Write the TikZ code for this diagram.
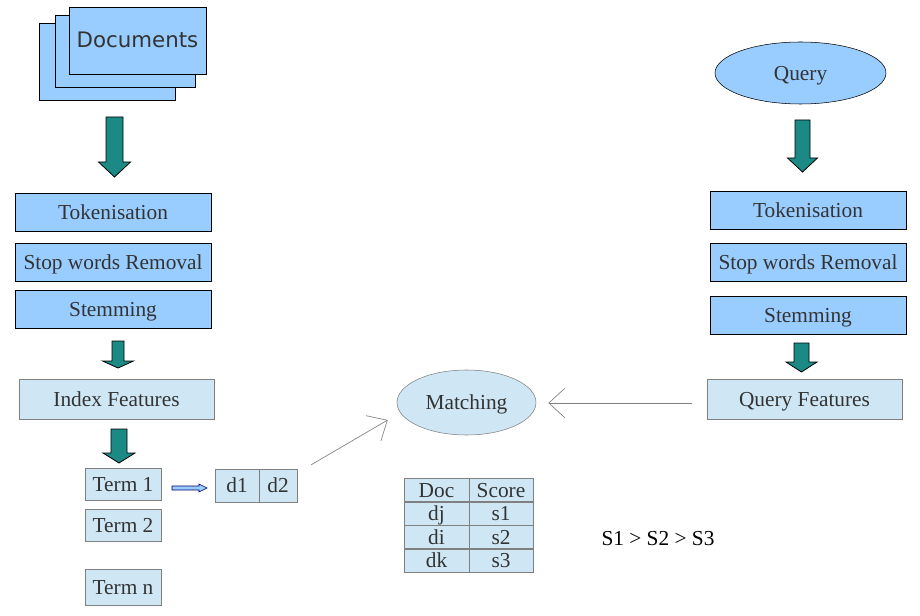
\documentclass[tikz,border=0pt]{standalone}
\usepackage{fontspec}
\setmainfont{Liberation Serif}
\newfontfamily\docfont{DejaVu Sans}
\usepackage{xcolor}
\usetikzlibrary{shapes.geometric, arrows.meta}
\definecolor{stageblue}{HTML}{99CCFF}
\definecolor{paleblue}{HTML}{CFE7F5}
\definecolor{arrowteal}{HTML}{1B8A85}
\definecolor{inkgray}{HTML}{333333}
\tikzstyle{txt} = [font=\fontsize{16}{19}\selectfont, text=inkgray, inner sep=0pt, text height=10.8pt, text depth=0pt]
\tikzstyle{stage} = [txt, rectangle, minimum width=147pt, minimum height=28.5pt, text centered, draw=black, fill=stageblue]
\tikzstyle{feature} = [txt, rectangle, minimum width=146pt, minimum height=30pt, text centered, draw=gray, fill=paleblue]
\tikzstyle{term} = [txt, rectangle, minimum width=57pt, minimum height=24pt, draw=gray, fill=paleblue]
\tikzstyle{cell} = [txt, rectangle, minimum height=17.6pt, draw=gray, fill=paleblue]
\tikzstyle{sheet} = [rectangle, draw=black, fill=stageblue]
\tikzstyle{blockarrow} = [draw=black, fill=arrowteal, line width=0.6pt]
\tikzstyle{openarrow} = [-{Straight Barb[length=12pt, width=22pt]}, draw=gray, line width=0.5pt]
% #1 x, #2 top, #3 tip, #4 shaft half width, #5 head half width, #6 head length
\newcommand{\downblock}[6]{%
  \draw[blockarrow] (#1-#4,#2) -- (#1+#4,#2) -- (#1+#4,#3-#6) -- (#1+#5,#3-#6)
    -- (#1,#3) -- (#1-#5,#3-#6) -- (#1-#4,#3-#6) -- cycle;}

\begin{document}
\begin{tikzpicture}[x=0.75pt, y=-0.75pt]
        \useasboundingbox (0,0) rectangle (920,616);
        % document stack
        \node[sheet, minimum width=102pt, minimum height=57.75pt](sheet3) at (107,61.5){};
        \node[sheet, minimum width=105pt, minimum height=54pt](sheet2) at (125,51){};
        \node[sheet, minimum width=102.75pt, minimum height=50.25pt, txt](docs) at (137.5,40.5){\docfont Documents};
        \node[txt, draw=black, fill=stageblue, ellipse, minimum width=128.25pt, minimum height=46.5pt](query) at (800.5,73){Query};

        \node[stage](tokL) at (113,212.5){Tokenisation};
        \node[stage](stopL) at (113,262){Stop words Removal};
        \node[stage](stemL) at (113,309.5){Stemming};
        \node[feature](index) at (116.5,399){Index Features};

        \node[stage](tokR) at (808,210){Tokenisation};
        \node[stage](stopR) at (808,262){Stop words Removal};
        \node[stage](stemR) at (808,315){Stemming};
        \node[feature](qfeat) at (804.5,399){Query Features};

        \node[term](term1) at (123,484){Term 1};
        \node[term](term2) at (123,525){Term 2};
        \node[term, minimum height=27pt](termn) at (123,587){Term n};
        \node[cell, minimum width=33pt, minimum height=24.75pt](dd1) at (237,485.5){d1};
        \node[cell, minimum width=28.5pt, minimum height=24.75pt](dd2) at (278,485.5){d2};

        \node[txt, draw=gray, fill=paleblue, ellipse, minimum width=104.25pt, minimum height=48.75pt](match) at (466.5,402.5){Matching};

        \foreach \d/\s [count=\r] in {Doc/Score, dj/s1, di/s2, dk/s3}{
            \node[cell, minimum width=48.75pt](doc\r) at (436.5,466.5+23.5*\r){\d};
            \node[cell, minimum width=48pt](score\r) at (501,466.5+23.5*\r){\s};
        }
        \node[txt, text=black](order) at (658,538){S1 > S2 > S3};

        \downblock{114.5}{117}{177}{8.5}{16}{15}
        \downblock{118}{341}{368}{6}{15.5}{7}
        \downblock{119}{429}{463}{8}{16}{10}
        \downblock{802.5}{120}{172}{7.5}{15}{14}
        \downblock{801.5}{343}{372}{7.5}{15.5}{10}

        \draw[draw=black!60!blue, fill=stageblue, line width=0.4pt] (172,486) -- (199,486) -- (199,484) -- (207,488)
            -- (199,492) -- (199,490) -- (172,490) -- cycle;
        \draw[openarrow] ([shift={(14,-4)}]dd2.north east) -- ([shift={(-9,17.5)}]match.west);
        \draw[openarrow] ([shift={(-15,4)}]qfeat.west) -- ([shift={(12,0.5)}]match.east);
    \end{tikzpicture}
\end{document}
